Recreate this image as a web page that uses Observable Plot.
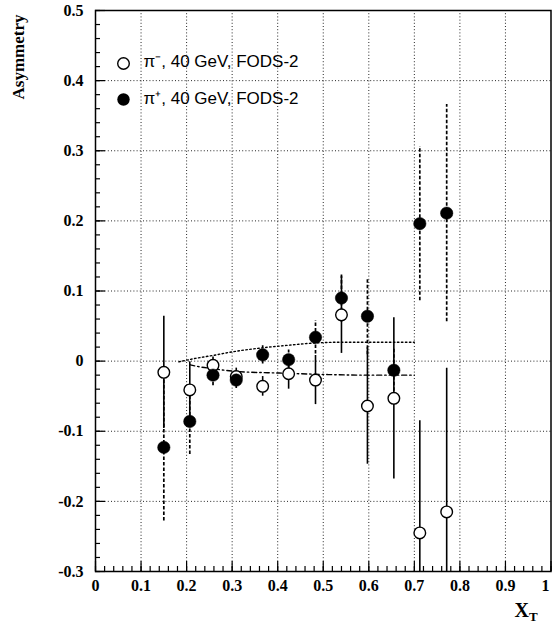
<!DOCTYPE html>
<html><head><meta charset="utf-8">
<script src="https://cdn.jsdelivr.net/npm/d3@7"></script>
<script src="https://cdn.jsdelivr.net/npm/@observablehq/plot@0.6"></script>
<style>body{margin:0;background:#fff} #chart{width:552px;height:627px;position:relative}</style>
</head><body><div id="chart"></div>
<script>
// x_T bin centres
const xT = [0.150, 0.207, 0.258, 0.309, 0.367, 0.424, 0.483, 0.540, 0.597, 0.655, 0.712, 0.771];
// pi-, 40 GeV, FODS-2 (open circles)
const piMinusA   = [-0.016, -0.041, -0.006, -0.022, -0.036, -0.018, -0.027, 0.066, -0.064, -0.053, -0.245, -0.215];
const piMinusErr = [0.080, 0.040, 0.012, 0.012, 0.014, 0.022, 0.035, 0.055, 0.083, 0.115, 0.160, 0.205];
// pi+, 40 GeV, FODS-2 (filled circles)
const piPlusA    = [-0.123, -0.086, -0.020, -0.027, 0.009, 0.002, 0.034, 0.090, 0.064, -0.013, 0.196, 0.211];
const piPlusErr  = [0.105, 0.047, 0.015, 0.012, 0.013, 0.014, 0.024, 0.035, 0.055, 0.030, 0.110, 0.155];
// model curves
const dottedX  = [0.183, 0.220, 0.257, 0.298, 0.367, 0.430, 0.485, 0.550, 0.620, 0.700];
const dottedY  = [-0.001, 0.004, 0.008, 0.013, 0.019, 0.023, 0.026, 0.027, 0.027, 0.027];
const dashDotX = [0.207, 0.213, 0.260, 0.316, 0.404, 0.500, 0.600, 0.700];
const dashDotY = [-0.005, -0.006, -0.011, -0.015, -0.017, -0.019, -0.020, -0.020];
// ticks
const xTicks = [0, 0.1, 0.2, 0.3, 0.4, 0.5, 0.6, 0.7, 0.8, 0.9, 1];
const yTicks = [-0.3, -0.2, -0.1, 0, 0.1, 0.2, 0.3, 0.4, 0.5];
const xGrid = [0.1, 0.2, 0.3, 0.4, 0.5, 0.6, 0.7, 0.8, 0.9];
const yGrid = [-0.2, -0.1, 0, 0.1, 0.2, 0.3, 0.4];
const xMinor = d3.ticks(0, 1, 50);
const yMinor = d3.ticks(-0.3, 0.5, 40);
const legendLabels = ["π⁻, 40 GeV, FODS-2", "π⁺, 40 GeV, FODS-2"];

const minus = xT.map((x, i) => ({x, a: piMinusA[i], lo: piMinusA[i] - piMinusErr[i], hi: piMinusA[i] + piMinusErr[i]}));
const plus  = xT.map((x, i) => ({x, a: piPlusA[i],  lo: piPlusA[i] - piPlusErr[i],  hi: piPlusA[i] + piPlusErr[i]}));
const dotted  = dottedX.map((x, i) => ({x, y: dottedY[i]}));
const dashDot = dashDotX.map((x, i) => ({x, y: dashDotY[i]}));

const W = 552, H = 627, mL = 95, mR = 1.5, mT = 10, mB = 56;
const iW = W - mL - mR, iH = H - mT - mB;
const grid = {stroke: "#000", strokeWidth: 1, strokeDasharray: "1,2.2", strokeOpacity: 0.85};

const svg = Plot.plot({
  width: W, height: H,
  marginLeft: mL, marginRight: mR, marginTop: mT, marginBottom: mB,
  style: {fontFamily: "'Liberation Serif', serif", fontWeight: "bold", fontSize: "16px", background: "#fff", color: "#000"},
  x: {domain: [0, 1]},
  y: {domain: [-0.3, 0.5]},
  marks: [
    Plot.ruleX(xGrid, grid),
    Plot.ruleY(yGrid, grid),
    Plot.ruleX(xMinor, {insetTop: iH - 5, stroke: "#000", strokeWidth: 1.2}),
    Plot.ruleX(xTicks, {insetTop: iH - 10, stroke: "#000", strokeWidth: 1.2}),
    Plot.ruleY(yMinor, {insetRight: iW - 5, stroke: "#000", strokeWidth: 1.2}),
    Plot.ruleY(yTicks, {insetRight: iW - 10, stroke: "#000", strokeWidth: 1.2}),
    Plot.line(dotted, {x: "x", y: "y", stroke: "#000", strokeWidth: 1.4, strokeDasharray: "1.5,2.5", curve: "monotone-x"}),
    Plot.line(dashDot, {x: "x", y: "y", stroke: "#000", strokeWidth: 1.4, strokeDasharray: "5,3,1.5,3", curve: "monotone-x"}),
    Plot.ruleX(minus, {x: "x", y1: "lo", y2: "hi", stroke: "#000", strokeWidth: 1.6, clip: true}),
    Plot.ruleX(plus, {x: "x", y1: "lo", y2: "hi", stroke: "#000", strokeWidth: 1.7, strokeDasharray: "3.5,2", clip: true}),
    Plot.dot(minus, {x: "x", y: "a", r: 5.8, fill: "#fff", stroke: "#000", strokeWidth: 1.4}),
    Plot.dot(plus, {x: "x", y: "a", r: 6.2, fill: "#000", stroke: "#000", strokeWidth: 0.5}),
    // legend
    Plot.dot([legendLabels[0]], {frameAnchor: "top-left", dx: 28, dy: 53, r: 5.8, fill: "#fff", stroke: "#000", strokeWidth: 1.4}),
    Plot.dot([legendLabels[1]], {frameAnchor: "top-left", dx: 28, dy: 89, r: 6.2, fill: "#000"}),
    Plot.text([legendLabels[0]], {text: d => d, frameAnchor: "top-left", dx: 48, dy: 51, textAnchor: "start", lineAnchor: "middle", fontFamily: "'Liberation Sans', Arial, sans-serif", fontWeight: "normal", fontSize: 17, fill: "#000"}),
    Plot.text([legendLabels[1]], {text: d => d, frameAnchor: "top-left", dx: 48, dy: 88, textAnchor: "start", lineAnchor: "middle", fontFamily: "'Liberation Sans', Arial, sans-serif", fontWeight: "normal", fontSize: 17, fill: "#000"}),
    Plot.axisX(xTicks, {tickSize: 0, tickPadding: 8, tickFormat: d => String(d), label: null}),
    Plot.axisY(yTicks, {tickSize: 0, tickPadding: 12, tickFormat: d => String(d), label: null}),
    Plot.frame({stroke: "#000", strokeWidth: 1.5})
  ]
});

const s = d3.select(svg);
// keep the last x tick label ("1") inside the picture
s.selectAll("text").filter(function() {
  const g = this.parentNode;
  return g && g.getAttribute("aria-label") === "x-axis tick label" && this.textContent === "1";
}).attr("text-anchor", "end").attr("dx", -1.5);
s.append("text")
  .attr("transform", "translate(24,57) rotate(-90)")
  .attr("text-anchor", "middle")
  .attr("font-family", "'Liberation Serif', serif")
  .attr("font-weight", "bold")
  .attr("font-size", 17)
  .attr("fill", "#000")
  .text("Asymmetry");
const xl = s.append("text")
  .attr("x", 526).attr("y", 617)
  .attr("font-family", "'Liberation Serif', serif")
  .attr("font-weight", "bold")
  .attr("font-size", 20)
  .attr("fill", "#000");
xl.append("tspan").text("X");
xl.append("tspan").attr("font-size", 13).attr("dy", 4).text("T");

document.getElementById("chart").appendChild(svg);
</script>
</body></html>
